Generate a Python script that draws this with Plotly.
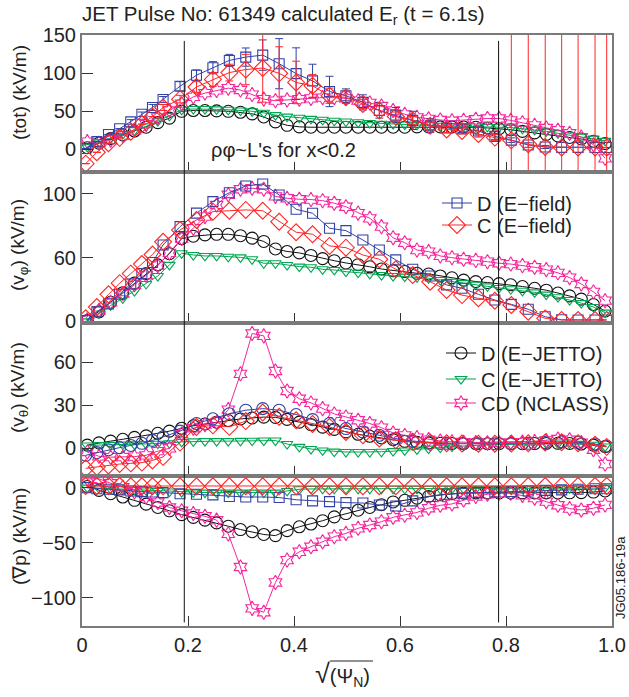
import plotly.graph_objects as go

# ---------------- data ----------------
# x grid for JETTO / NCLASS series (sqrt(psi_N))
xJ = [0.010, 0.032, 0.054, 0.077, 0.099, 0.121, 0.143, 0.165, 0.188, 0.210,
      0.232, 0.254, 0.276, 0.299, 0.321, 0.343, 0.365, 0.387, 0.410, 0.432,
      0.454, 0.476, 0.498, 0.521, 0.543, 0.565, 0.587, 0.609, 0.632, 0.654,
      0.676, 0.698, 0.720, 0.743, 0.765, 0.787, 0.809, 0.831, 0.854, 0.876,
      0.898, 0.920, 0.942, 0.965, 0.987]
# x grid for E-field series
xE = [0.007, 0.028, 0.050, 0.071, 0.092, 0.113, 0.133, 0.153, 0.185, 0.216,
      0.247, 0.278, 0.309, 0.341, 0.372, 0.404, 0.435, 0.467, 0.498, 0.530,
      0.561, 0.592, 0.624, 0.657, 0.688, 0.717, 0.748, 0.779, 0.810, 0.842,
      0.874, 0.905, 0.936, 0.968, 0.990]

# Panel 1: total
D_E_tot = [1, 10, 19.5, 27, 36, 46, 55, 65.5, 83, 97.5,
           107.4, 117, 121.4, 124, 112.7, 99.6, 90, 76.1, 70.5, 61.7,
           51, 45, 38, 31, 28, 27, 24, 17, 12, 5.5,
           3, 2.5, 2.5, 2.2, 2.2]
D_E_tot_err = [0, 0, 0, 0, 3, 3, 4, 4, 6, 7,
               8, 8, 12, 20, 33, 34, 22, 20, 9, 10,
               10, 10, 12, 9, 6, 5, 5, 4, 3, 3,
               2, 0, 0, 0, 0]
C_E_tot = [-19, -4, 8, 15, 23, 33, 43, 55, 66, 82,
           92, 101, 105, 107, 100, 88, 83.6, 70.5, 68.3, 59.7,
           50.9, 43, 38, 31, 26, 24, 20, 15.3, 11.7, 6.5,
           3, 2.2, 2.2, 2.2, 2.2]
C_E_tot_err = [0, 0, 0, 0, 0, 0, 0, 4, 5, 7,
               9, 11, 20, 45, 35, 28, 15, 10, 8, 6,
               6, 6, 5, 5, 4, 4, 4, 4, 400, 400,
               400, 400, 400, 400, 400]
D_J_tot = [2, 8, 14, 19, 24, 29, 35, 41, 50, 51,
           51, 50.5, 50, 48.7, 46.6, 42.5, 36, 31.5, 29.5, 29,
           29, 29, 29, 29, 29, 29, 29, 29, 29.5, 29.5,
           29.5, 29.5, 29.3, 29, 28, 27, 25.7, 23.5, 21.5, 19.5,
           17.5, 15.5, 13.5, 10.5, 7.5]
C_J_tot = [3, 9, 15, 20, 25, 30, 37, 44, 52, 53,
           53, 52.5, 52, 51, 50, 48, 45, 43, 41.4, 40,
           38.8, 37.5, 36.5, 35.5, 34.5, 33.5, 33, 32.5, 32, 31.5,
           31, 30.5, 30, 30, 29.5, 29, 28.5, 27, 25.5, 23.5,
           21, 18.5, 16.5, 14, 11]
CD_N_tot = [10, 8, 12, 18, 25, 33, 42, 51, 60, 69,
            74, 77.5, 80.5, 78, 72, 66, 64, 65, 66, 67,
            68, 68, 67, 64, 61, 57, 51, 46, 42, 40,
            38.5, 37.5, 38, 39.5, 40.5, 40.5, 38, 35, 31.5, 28,
            25, 21, 16, 6, -12]

# Panel 2: v_phi
D_E_phi = [20.5, 26, 31, 37, 43.5, 50, 57, 68, 79.5, 88,
           95.2, 100.8, 105, 106.3, 99.4, 90.4, 87.9, 78.5, 77, 71.1,
           64.8, 58.6, 52.7, 48.5, 42.9, 40.8, 37, 33.4, 30.7, 27.6,
           22.9, 21, 20.9, 20.9, 20.9]
C_E_phi = [22, 29, 37, 44, 50, 56, 62, 70, 77.4, 83.7,
           88.9, 89.5, 90, 89.5, 82.6, 76, 74.7, 67.4, 66.3, 61.7,
           59, 52.7, 49.1, 44.9, 39.7, 36.5, 34.5, 33, 30.3, 26.1,
           21.9, 20.9, 20.9, 20.9, 20.9]
D_J_phi = [20.5, 26, 32, 38, 44, 50, 55.5, 62.5, 72, 73.5,
           74.3, 74.7, 74.7, 73.8, 72.3, 70.2, 65.5, 63.9, 63, 61.4,
           59.4, 58.1, 56.7, 55.6, 54.3, 52.9, 51.9, 51.3, 50.2, 49.8,
           48.5, 47.4, 45.9, 45, 44.4, 43.7, 43, 41.9, 40.8, 39.6,
           37.8, 36, 34, 30.6, 26.5]
C_J_phi = [20, 25, 30, 34.5, 39, 43.5, 48.5, 55.5, 62.8, 61.7,
           61.1, 61.1, 60.6, 60.2, 59, 56.5, 56.5, 55.4, 54.4, 54,
           52.7, 52.3, 51.2, 50.6, 49.8, 49.1, 48.5, 48.1, 47.7, 47.1,
           46, 44.9, 44, 43, 42, 41, 40.2, 39.2, 38.2, 36.8,
           35.2, 33.4, 31.5, 29, 25.5]
CD_N_phi = [21, 27, 32, 37.5, 43, 49, 55, 63, 72, 78.5,
            85.8, 93.1, 99.5, 103, 103.6, 103, 98.5, 97.3, 96.7, 96.5,
            95.8, 94.2, 92, 88, 84.7, 79.5, 72.5, 69.4, 64.8, 63.8,
            61.1, 60, 59, 58.3, 57.5, 56.5, 56, 55, 54, 52.5,
            50.5, 47.5, 43.5, 38.5, 33]

# Panel 3: v_theta
D_E_th = [-4.9, -3, -1, 0.5, 2, 3.5, 5.5, 8, 12, 17.3,
          20.6, 24.1, 26.6, 27.7, 26.6, 23.6, 20, 17.3, 13.8, 11.4,
          9.1, 6.8, 5, 4, 3.5, 3.3, 3.2, 3.2, 3.2, 3.5,
          4, 4.5, 4.2, 3, 1.5]
C_E_th = [-14, -13, -12, -11, -10.5, -10, -8.5, -6, 4, 14.9,
          16, 15, 19, 25, 22, 19.6, 17, 14.9, 11.4, 9.1,
          6.8, 5.6, 4.5, 4, 3.5, 3.3, 3.2, 3.2, 3.3, 3.5,
          4, 4.2, 3.5, 2.5, 1]
D_J_th = [2.2, 3.8, 5, 6.3, 7.6, 8.7, 10.5, 12, 14, 15.7,
          17, 18.2, 19.4, 20.5, 21.2, 21.8, 21.6, 20.2, 18.3, 16.6,
          14.8, 13.2, 11.5, 9.8, 8.4, 7.3, 6, 4.8, 4.2, 3.7,
          3.5, 3.3, 3.2, 3.2, 3.2, 3.2, 3.2, 3.2, 3.3, 3.4,
          3.5, 3.4, 3, 2.2, 1.2]
C_J_th = [2, 2.2, 2.4, 2.6, 2.8, 3, 3.2, 3.5, 4.5, 4.8,
          5, 5, 5, 5.2, 5.3, 5.4, 5.4, 3, 1, -0.5,
          -1.5, -2.3, -2.6, -2.6, -2.6, -2.4, -2, -1.5, -0.8, -0.2,
          0.5, 1.2, 1.7, 2.1, 2.4, 2.6, 2.8, 3, 3.1, 3.2,
          3.3, 3.3, 3.1, 2.5, 1.3]
CD_N_th = [-2.6, -5.6, -6.2, -6.2, -5.8, -4.9, -2, 0, 10, 14,
           16.5, 18, 27, 52, 80.2, 78.5, 54, 40, 34.6, 31.7,
           27.7, 24, 21.9, 19.6, 17.3, 14.4, 10.7, 9, 7.5, 6.1,
           5.1, 4.5, 4.2, 4, 3.9, 3.9, 4, 4.3, 4.8, 5.5,
           6.5, 6, 4, -1, -11]

# Panel 4: grad p
D_E_gp = [0, -1, -1.5, -2, -3, -3.6, -4, -4.5, -5.5, -6,
          -6.6, -8, -8.5, -8.5, -9, -11, -12, -12.7, -13.6, -14,
          -15.7, -16.6, -12, -8, -6, -5, -4.5, -4, -3.5, -3,
          -2.5, -2, -1.5, -1, -1]
C_E_gp = [1.5, 1.5, 1.4, 1.4, 1.3, 1.3, 1.3, 1.2, 1.2, 1.2,
          1.2, 1.2, 1.2, 1.2, 1.2, 1.2, 1.2, 1.2, 1.2, 1.2,
          1.2, 1.2, 1.2, 1.2, 1.2, 1.2, 1.2, 1.3, 1.3, 1.4,
          1.4, 1.5, 1.5, 1.5, 1.5]
D_J_gp = [1, -2.5, -5.5, -8.5, -11.5, -15, -18, -21, -24.5, -27,
          -29.5, -32, -35, -38, -40, -42.5, -43.5, -39, -35.5, -33,
          -30, -26.5, -23.5, -20.5, -18, -15.5, -13, -11.5, -9.5, -8,
          -6.5, -5.5, -5, -4.8, -4.8, -4.8, -4.8, -4.8, -4.8, -4.8,
          -4.8, -4.7, -4.5, -4, -3]
C_J_gp = [0, -0.5, -1, -1.5, -2, -2.5, -3, -3.5, -4, -4.3,
          -4.5, -4.5, -4.5, -4.5, -4.5, -4.5, -4.5, -3, -1.5, -1.2,
          -1, -1, -1, -1, -1, -1, -1, -1, -1, -1,
          -1, -1, -1, -1, -1, -1, -1, -0.8, -0.8, -0.6,
          -0.5, -0.5, -0.5, -0.3, 0]
CD_N_gp = [8, 8, 4, 0.5, -4, -8.5, -13.5, -18, -21, -23.5,
           -26, -29.5, -42, -72, -109.5, -113, -86, -65.7, -58.2, -53.6,
           -49.1, -44.5, -41.5, -36.9, -33.9, -30.9, -26.9, -25, -22.5, -18.7,
           -16, -14.8, -11.2, -8, -6, -5.1, -5.1, -7, -9.5, -12.7,
           -16, -19, -20.3, -18.7, -15.7]

ref_lines = [0.193, 0.786]

panel_titles = ["(tot) (kV/m)", "(v<sub>φ</sub>) (kV/m)",
                "(v<sub>θ</sub>) (kV/m)", "(∇p) (kV/m)"]
ytickvals = [[0, 50, 100, 150], [20, 60, 100], [0, 30, 60], [-100, -50, 0]]
yticktext = [["0", "50", "100", "150"], ["0", "60", "100"], ["0", "30", "60"],
             ["−100", "−50", "0"]]
yranges = [[-29.6, 150.5], [18.8, 114], [-19, 87.3], [-125.5, 11]]
xtickvals = [0, 0.2, 0.4, 0.6, 0.8, 1.0]
xticktext = ["0", "0.2", "0.4", "0.6", "0.8", "1.0"]

# ---------------- styling ----------------
FONT = "Liberation Sans, Arial, sans-serif"
BLUE = "#3141a6"
RED = "#ff2626"
GREEN = "#00a650"
PINK = "#f5259c"
BLACK = "#111111"
AX = "#7a7a7a"

W, H = 629, 697
ML, MR, MT, MB = 82, 17, 35, 71
PW = W - ML - MR
ph = H - MT - MB
BOT = H - MB
bounds_px = [35, 171.7, 323.3, 475.5, BOT]
domains = []
for k in range(4):
    top = (BOT - bounds_px[k]) / ph
    bot = (BOT - bounds_px[k + 1]) / ph
    domains.append([max(0, bot), min(1, top)])


def px2x(px):
    return (px - ML) / PW


def py2y(py):
    return (BOT - py) / ph


fig = go.Figure()

# (name, colour, symbol, size, per-panel values, legend id, legend row y px, legend left px)
series_E = [
    ("D (E−field)", BLUE, "square-open", 10, [D_E_tot, D_E_phi, D_E_th, D_E_gp], "legend", 203, 437),
    ("C (E−field)", RED, "diamond-open", 13, [C_E_tot, C_E_phi, C_E_th, C_E_gp], "legend2", 225, 437),
]
series_J = [
    ("D (E−JETTO)", BLACK, "circle-open", 12, [D_J_tot, D_J_phi, D_J_th, D_J_gp], "legend3", 353, 441),
    ("C (E−JETTO)", GREEN, "triangle-down-open", 10, [C_J_tot, C_J_phi, C_J_th, C_J_gp], "legend4", 379, 441),
    ("CD (NCLASS)", PINK, "hexagram-open", 11, [CD_N_tot, CD_N_phi, CD_N_th, CD_N_gp], "legend5", 403, 441),
]
errs = {"D (E−field)": D_E_tot_err, "C (E−field)": C_E_tot_err}

for k in range(4):
    ax = "" if k == 0 else str(k + 1)
    for name, col, sym, size, ys, lg, _, _ in series_J:
        fig.add_trace(go.Scatter(
            x=xJ, y=ys[k], mode="lines+markers", name=name,
            line=dict(color=col, width=1),
            marker=dict(symbol=sym, size=size, color=col, line=dict(width=1.1, color=col)),
            xaxis="x" + ax, yaxis="y" + ax,
            legend=lg, showlegend=(k == 2),
        ))
    for name, col, sym, size, ys, lg, _, _ in series_E:
        s = sym
        sz = size
        if k == 2 and name.startswith("D"):
            s, sz = "circle-open", 12
        err = None
        if k == 0:
            err = dict(type="data", array=errs[name], color=col, thickness=1, width=4)
        fig.add_trace(go.Scatter(
            x=xE, y=ys[k], mode="lines+markers", name=name,
            line=dict(color=col, width=1),
            marker=dict(symbol=s, size=sz, color=col, line=dict(width=1.1, color=col)),
            error_y=err,
            xaxis="x" + ax, yaxis="y" + ax,
            legend=lg, showlegend=(k == 1),
        ))

layout = dict(
    width=W, height=H,
    margin=dict(l=ML, r=MR, t=MT, b=MB, autoexpand=False),
    paper_bgcolor="white", plot_bgcolor="white",
    font=dict(family=FONT, size=20, color="#222"),
    title=dict(text="JET Pulse No: 61349 calculated E<sub>r</sub> (t = 6.1s)",
               x=0, xref="paper", xanchor="left", y=1 - 14 / H, yref="container",
               yanchor="middle", font=dict(size=20.5, color="#222")),
)
for name, col, sym, size, ys, lg, rowpy, leftpx in series_E + series_J:
    layout[lg] = dict(x=px2x(leftpx), y=py2y(rowpy), xanchor="left", yanchor="middle",
                      bgcolor="rgba(0,0,0,0)", font=dict(size=20, color="#222"),
                      itemwidth=30)

for k in range(4):
    ax = "" if k == 0 else str(k + 1)
    last = (k == 3)
    xa = dict(
        domain=[0, 1], range=[0, 1], anchor="y" + ax,
        showline=True, mirror=True, linecolor=AX, linewidth=2,
        ticks="inside", ticklen=10, tickcolor="#333", tickwidth=1,
        showticklabels=last, showgrid=False, zeroline=False,
        tickfont=dict(size=20, color="#222"),
    )
    if last:
        xa["tickvals"] = xtickvals
        xa["ticktext"] = xticktext
    else:
        xa["tickvals"] = xtickvals[1:-1]
    layout["xaxis" + ax] = xa
    layout["yaxis" + ax] = dict(
        domain=domains[k], range=yranges[k], anchor="x" + ax,
        showline=True, mirror=True, linecolor=AX, linewidth=2,
        ticks="inside", ticklen=11, tickcolor="#333", tickwidth=1,
        tickvals=ytickvals[k], ticktext=yticktext[k],
        showgrid=False, zeroline=False,
        tickfont=dict(size=20, color="#222"),
    )

fig.update_layout(**layout)

# vertical reference lines
for xv in ref_lines:
    fig.add_shape(type="line", xref="x", yref="paper", x0=xv, x1=xv, y0=0.006, y1=0.99,
                  line=dict(color="#111", width=1))

# overline of the square root in the x title
fig.add_shape(type="line", xref="paper", yref="paper",
              x0=px2x(330), x1=px2x(373), y0=py2y(661), y1=py2y(661),
              line=dict(color="#222", width=1))

annots = []
centers_py = [93, 245, 388, 537]
for k in range(4):
    annots.append(dict(text=panel_titles[k], xref="paper", yref="paper",
                       x=px2x(19), y=py2y(centers_py[k]),
                       textangle=-90, showarrow=False, xanchor="center", yanchor="middle",
                       font=dict(size=19, color="#222")))
annots.append(dict(text="ρφ~L's for x<0.2", xref="x", yref="y", x=0.38, y=-1,
                   showarrow=False, font=dict(size=20, color="#222")))
annots.append(dict(text="<span style='font-size:27px'>√</span>(Ψ<sub>N</sub>)",
                   xref="paper", yref="paper", x=px2x(342), y=py2y(674),
                   xanchor="center", yanchor="middle",
                   showarrow=False, font=dict(size=20, color="#222")))
annots.append(dict(text="JG05.186-19a", xref="paper", yref="paper",
                   x=px2x(620), y=py2y(578), textangle=-90,
                   xanchor="center", yanchor="middle",
                   showarrow=False, font=dict(size=13, color="#222")))
fig.update_layout(annotations=annots)

fig.write_html("out.html")
